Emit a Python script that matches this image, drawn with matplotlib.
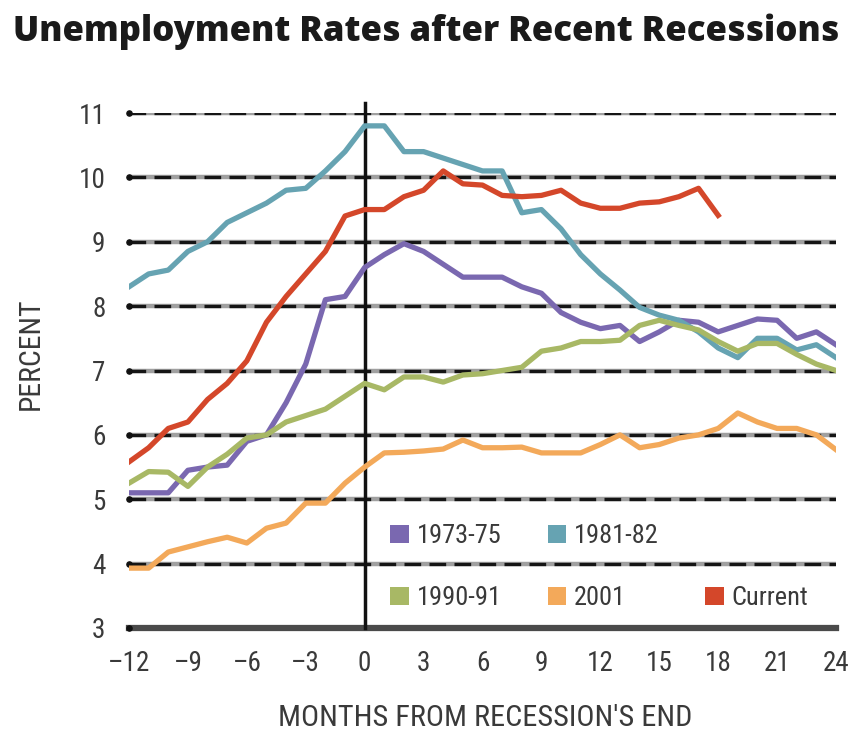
import numpy as np
import matplotlib
matplotlib.use("Agg")
import matplotlib.pyplot as plt
from matplotlib import font_manager as fm
from matplotlib.patches import Patch

months = np.arange(-12, 25)
months_current = np.arange(-12, 19)

r_1973 = [5.1, 5.1, 5.1, 5.45, 5.5, 5.53, 5.9, 6.0, 6.5, 7.1, 8.1, 8.15, 8.6,
          8.8, 8.97, 8.85, 8.65, 8.45, 8.45, 8.45, 8.3, 8.2, 7.9, 7.75, 7.65,
          7.7, 7.45, 7.6, 7.78, 7.75, 7.6, 7.7, 7.8, 7.78, 7.5, 7.6, 7.4]
r_1981 = [8.3, 8.5, 8.56, 8.85, 9.0, 9.3, 9.45, 9.6, 9.8, 9.83, 10.1, 10.4, 10.8,
          10.8, 10.4, 10.4, 10.3, 10.2, 10.1, 10.1, 9.45, 9.5, 9.2, 8.8, 8.5,
          8.25, 7.98, 7.86, 7.78, 7.6, 7.35, 7.2, 7.5, 7.5, 7.32, 7.4, 7.2]
r_1990 = [5.25, 5.43, 5.42, 5.2, 5.5, 5.7, 5.95, 6.0, 6.2, 6.3, 6.4, 6.6, 6.8,
          6.7, 6.9, 6.9, 6.82, 6.93, 6.95, 7.0, 7.05, 7.3, 7.35, 7.45, 7.45,
          7.47, 7.7, 7.78, 7.7, 7.63, 7.45, 7.3, 7.42, 7.42, 7.25, 7.1, 7.0]
r_2001 = [3.93, 3.93, 4.18, 4.26, 4.34, 4.41, 4.32, 4.55, 4.63, 4.94, 4.94, 5.25, 5.5,
          5.72, 5.73, 5.75, 5.78, 5.92, 5.8, 5.8, 5.81, 5.72, 5.72, 5.72, 5.85,
          6.0, 5.8, 5.85, 5.95, 6.0, 6.1, 6.34, 6.2, 6.1, 6.1, 6.0, 5.77]
r_current = [5.58, 5.8, 6.1, 6.2, 6.55, 6.8, 7.15, 7.75, 8.15, 8.5, 8.85, 9.4, 9.5,
             9.5, 9.7, 9.8, 10.1, 9.9, 9.88, 9.72, 9.7, 9.72, 9.8, 9.6, 9.52,
             9.52, 9.6, 9.62, 9.7, 9.83, 9.41]

labels = ["1973-75", "1981-82", "1990-91", "2001", "Current"]
colors = ["#7a68b0", "#66a3b2", "#a8b865", "#f3a95a", "#d4472a"]

yticks = np.arange(3, 12)
xticks = np.arange(-12, 25, 3)


def has_font(name):
    try:
        fm.findfont(fm.FontProperties(family=name), fallback_to_default=False)
        return True
    except ValueError:
        return False


if has_font("Roboto Condensed"):
    narrow = ["Roboto Condensed", "DejaVu Sans"]
    tick_size, leg_size = 19.5, 19
else:
    narrow = ["Liberation Sans", "DejaVu Sans"]
    tick_size, leg_size = 16, 16
title_font = ["Open Sans", "DejaVu Sans"]
txt_col = "#3a3a3a"

fig = plt.figure(figsize=(8.49, 7.35), dpi=100)
ax = fig.add_axes([129 / 849, 1 - 628 / 735, 707 / 849, 515 / 735])
ax.set_xlim(-12, 24)
ax.set_ylim(3, 11)

# dashed grid lines with a grey underlay
for y in yticks[1:]:
    ax.axhline(y, color="#a0a0a0", lw=3.2, zorder=1)
    ax.axhline(y, color="#151515", lw=2.4, ls=(0, (5, 2.5)), zorder=1)
ax.axhline(3, color="#4a4a4a", lw=4.5, zorder=1, clip_on=False)
ax.scatter(np.full(len(yticks), -12), yticks, s=14, color="#111111", zorder=2, clip_on=False)
ax.axvline(0, ymin=0, ymax=1.02, color="#111111", lw=2.5, zorder=2, clip_on=False)

series = [r_1973, r_1981, r_1990, r_2001]
for vals, col in zip(series, colors[:4]):
    ax.plot(months, vals, color=col, lw=3.8, zorder=3, solid_joinstyle="round")
ax.plot(months_current, r_current, color=colors[4], lw=3.8, zorder=4, solid_joinstyle="round")

for s in ax.spines.values():
    s.set_visible(False)
ax.set_xticks(xticks)
ax.set_xticklabels([str(t).replace("-", "\u2013") for t in xticks])
ax.set_yticks(yticks)
ax.tick_params(length=0, labelsize=tick_size, labelcolor=txt_col)
ax.tick_params(axis="x", pad=16)
ax.tick_params(axis="y", pad=17)
for lab in ax.get_xticklabels() + ax.get_yticklabels():
    lab.set_family(narrow)

xl = fig.text(485 / 849, 1 - 718 / 735, "MONTHS FROM RECESSION'S END", ha="center", va="center",
              fontsize=16, family=narrow, color=txt_col)
yl = fig.text(31 / 849, 1 - 354 / 735, "PERCENT", ha="center", va="center", rotation=90,
              fontsize=16, family=narrow, color=txt_col)
tt = fig.text(426 / 849, 1 - 32 / 735, "Unemployment Rates after Recent Recessions", ha="center",
              va="center", fontsize=24, fontweight=800, family=title_font, color="#1a1a1a")

# scale the text to the widths seen in the original
renderer = fig.canvas.get_renderer()
for t, target, vertical in [(xl, 415, False), (yl, 113, True), (tt, 826, False)]:
    bb = t.get_window_extent(renderer)
    size = bb.height if vertical else bb.width
    t.set_fontsize(t.get_fontsize() * target / size)

# legend filled column by column; a blank slot keeps "Current" on the second row
order = [0, 2, 1, 3, None, 4]
handles = [Patch(facecolor=colors[i], edgecolor="none") if i is not None
           else Patch(facecolor="none", edgecolor="none") for i in order]
names = [labels[i] if i is not None else "" for i in order]
leg = ax.legend(handles, names, ncol=3, frameon=False,
                loc="upper left", bbox_to_anchor=(248 / 707, 117 / 515),
                handlelength=0.7, handleheight=0.7, handletextpad=0.3,
                columnspacing=1.75, labelspacing=1.45, borderpad=0,
                prop={"family": narrow, "size": leg_size})
for t in leg.get_texts():
    t.set_color(txt_col)

fig.savefig("out.png", dpi=100)
